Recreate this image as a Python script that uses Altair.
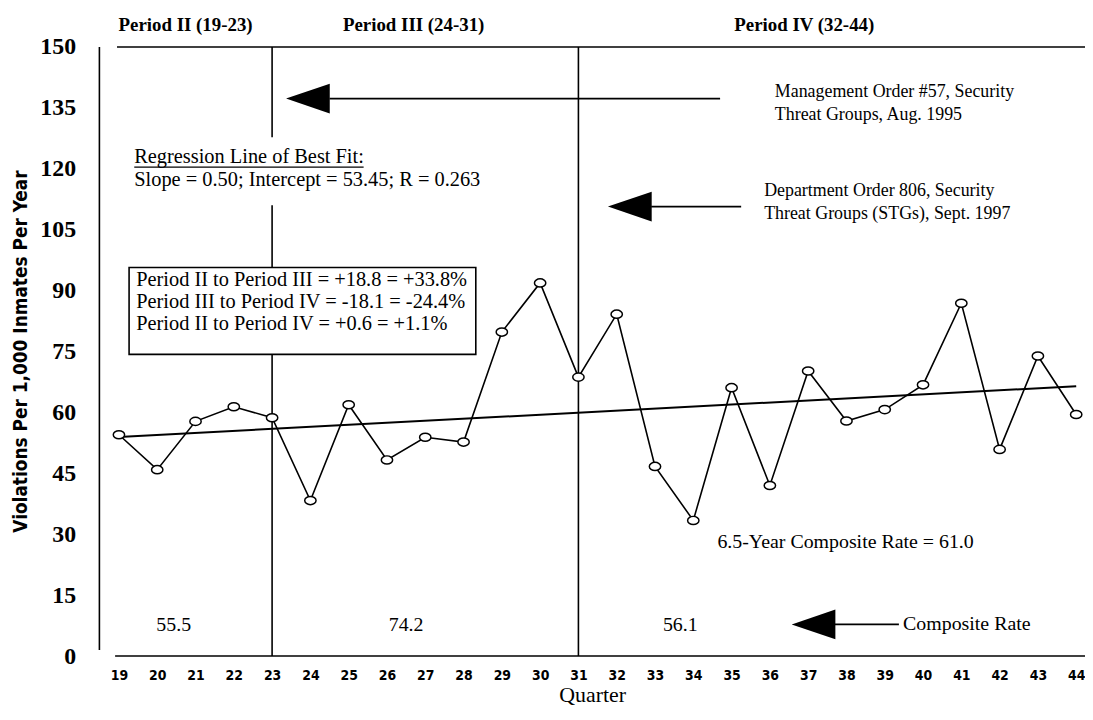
import altair as alt
import pandas as pd

# ---------------- data ----------------
quarters = list(range(19, 45))
rates = [54.5, 45.9, 57.8, 61.4, 58.7, 38.3, 61.9, 48.3, 53.9, 52.7,
         79.8, 91.9, 68.7, 84.2, 46.7, 33.4, 66.1, 42.0, 70.2, 57.9,
         60.7, 66.8, 86.9, 50.9, 73.9, 59.5]
reg_slope = 0.50
reg_intercept = 53.45
period_breaks = [23, 31]
period_names = ["Period II (19-23)", "Period III (24-31)", "Period IV (32-44)"]
composite_rates = ["55.5", "74.2", "56.1"]
change_lines = ["Period II to Period III = +18.8 = +33.8%",
                "Period III to Period IV = -18.1 = -24.4%",
                "Period II to Period IV = +0.6 = +1.1%"]
reg_lines = ["Regression Line of Best Fit:",
             "Slope = 0.50; Intercept = 53.45; R = 0.263"]
order_lines = ["Management Order #57, Security", "Threat Groups, Aug. 1995",
               "Department Order 806, Security", "Threat Groups (STGs), Sept. 1997"]
y_ticks = list(range(0, 151, 15))

# ---------------- layout (annotation placement, data units) ----------------
XMIN, XMAX = 18.49, 44.23
period_label_pos = [(18.99, 155.4), (24.85, 155.4), (35.07, 155.4)]
composite_pos = [(20.43, 7.6), (26.5, 7.6), (33.66, 7.6)]

SERIF = "Liberation Serif"
NARROW = "Liberation Sans Narrow, DejaVu Sans Condensed, Liberation Sans"

xscale = alt.Scale(domain=[XMIN, XMAX], nice=False, zero=False)
yscale = alt.Scale(domain=[0, 150], nice=False, zero=False)
xaxis = alt.Axis(values=quarters, domain=False, ticks=False, grid=False,
                 labelFont=NARROW, labelFontWeight="bold", labelFontSize=14,
                 labelPadding=13, labelColor="black", labelFlush=False,
                 title="Quarter", titleFont=SERIF, titleFontSize=22,
                 titleFontWeight="normal", titleColor="black",
                 titleY=46, titleBaseline="alphabetic")
yaxis = alt.Axis(values=y_ticks, domain=False, ticks=False, grid=False,
                 labelFont=SERIF, labelFontWeight="bold", labelFontSize=24,
                 labelPadding=24, labelColor="black", labelFlush=False,
                 title="Violations Per 1,000 Inmates Per Year",
                 titleFont=NARROW, titleFontWeight="bold", titleFontSize=19,
                 titleColor="black", titleX=-79, titleY=306, titleAngle=-90,
                 titleAlign="center", titleBaseline="middle")


def X(f):
    return alt.X(f, type="quantitative", scale=xscale, axis=xaxis)


def Y(f):
    return alt.Y(f, type="quantitative", scale=yscale, axis=yaxis)


def text_layer(df, size, align="left", weight="normal"):
    return alt.Chart(df).mark_text(align=align, baseline="middle", font=SERIF,
                                   fontSize=size, fontWeight=weight,
                                   color="black").encode(
        x=X("x"), y=Y("y"), text="t:N")


# frame / period lines
frame = pd.DataFrame({
    "x": [XMIN, 18.90, 18.95] + period_breaks,
    "x2": [XMIN, XMAX, XMAX] + period_breaks,
    "y": [1.5, 0, 150] + [0] * len(period_breaks),
    "y2": [150, 0, 150] + [150] * len(period_breaks),
})
frame_layer = alt.Chart(frame).mark_rule(color="black", strokeWidth=1.6).encode(
    x=X("x"), x2="x2", y=Y("y"), y2="y2")

# white patch behind regression text (hides the period line there)
patch = pd.DataFrame({"x": [22.6], "x2": [23.4], "y": [111.0], "y2": [127.8]})
patch_layer = alt.Chart(patch).mark_rect(fill="white").encode(
    x=X("x"), x2="x2", y=Y("y"), y2="y2")

# box with period changes
box = pd.DataFrame({"x": [19.265], "x2": [28.32], "y": [74.3], "y2": [95.7]})
box_layer = alt.Chart(box).mark_rect(fill="white", stroke="black", strokeWidth=1.6).encode(
    x=X("x"), x2="x2", y=Y("y"), y2="y2")

# regression line
reg = pd.DataFrame({"q": [quarters[0], quarters[-1]]})
reg["v"] = reg_intercept + reg_slope * (reg["q"] - 18)
reg_layer = alt.Chart(reg).mark_line(color="black", strokeWidth=2).encode(
    x=X("q"), y=Y("v"))

# data series
df = pd.DataFrame({"q": quarters, "v": rates})
line_layer = alt.Chart(df).mark_line(color="black", strokeWidth=1.6).encode(
    x=X("q"), y=Y("v"))
ellipse = "M-1,0 A1,0.72 0 1,1 1,0 A1,0.72 0 1,1 -1,0 Z"
pt_layer = alt.Chart(df).mark_point(shape=ellipse, size=130, filled=True,
                                    fill="white", stroke="black",
                                    strokeWidth=1.5, opacity=1).encode(
    x=X("q"), y=Y("v"))

# arrows
shafts = pd.DataFrame({"x": [24.5, 32.9, 37.7], "x2": [34.70, 35.25, 39.37],
                       "y": [137.3, 110.7, 7.8]})
shaft_layer = alt.Chart(shafts).mark_rule(color="black", strokeWidth=1.6).encode(
    x=X("x"), x2="x2", y=Y("y"))
heads = pd.DataFrame({"x": [23.935, 32.342, 37.14], "y": [137.3, 110.7, 7.8]})
head_layer = alt.Chart(heads).mark_point(shape="M-1,0L1,-0.68L1,0.68Z", size=1936,
                                         filled=True, fill="black", opacity=1,
                                         strokeWidth=0).encode(
    x=X("x"), y=Y("y"))

# underline of regression heading
uline = pd.DataFrame({"x": [19.40], "x2": [25.39], "y": [120.4]})
uline_layer = alt.Chart(uline).mark_rule(color="black", strokeWidth=1.2).encode(
    x=X("x"), x2="x2", y=Y("y"))

# texts
left_txt = pd.DataFrame({"t": reg_lines + change_lines,
                         "x": [19.40, 19.40, 19.45, 19.45, 19.45],
                         "y": [123.0, 117.2, 92.7, 87.2, 81.7]})
order_txt = pd.DataFrame({"t": order_lines,
                          "x": [36.13, 36.13, 35.85, 35.85],
                          "y": [138.8, 133.2, 114.5, 108.9]})
misc_txt = pd.DataFrame({"t": ["6.5-Year Composite Rate = 61.0", "Composite Rate"],
                         "x": [34.63, 39.48], "y": [28.0, 7.8]})
plab = pd.DataFrame({"t": period_names,
                     "x": [p[0] for p in period_label_pos],
                     "y": [p[1] for p in period_label_pos]})
comp = pd.DataFrame({"t": composite_rates,
                     "x": [p[0] for p in composite_pos],
                     "y": [p[1] for p in composite_pos]})

chart = alt.layer(
    frame_layer, patch_layer, box_layer, reg_layer, line_layer, pt_layer,
    shaft_layer, head_layer, uline_layer,
    text_layer(left_txt, 20.5), text_layer(order_txt, 18), text_layer(misc_txt, 20),
    text_layer(plab, 19, weight="bold"), text_layer(comp, 20, align="center")
).properties(
    width=992, height=613,
    autosize=alt.AutoSizeParams(type="none"),
    padding={"left": 92, "top": 37, "right": 0, "bottom": 50},
    background="white",
).configure_view(stroke=None)

chart.save("out.html", embed_options={"renderer": "svg", "actions": False})
